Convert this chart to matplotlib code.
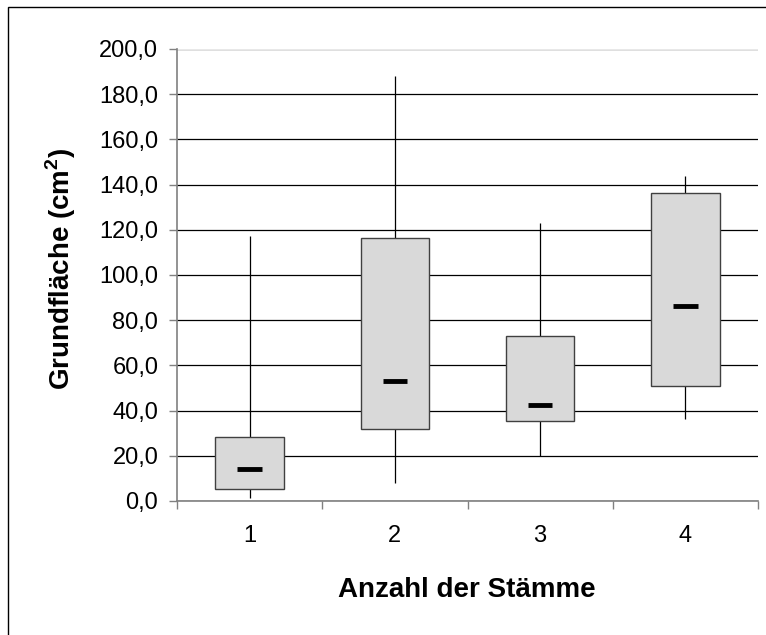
import matplotlib.pyplot as plt
from matplotlib.patches import Rectangle
from matplotlib.ticker import FixedLocator, FuncFormatter

plt.rcParams['font.family'] = ['Liberation Sans', 'DejaVu Sans']
plt.rcParams['mathtext.fontset'] = 'custom'
plt.rcParams['mathtext.rm'] = 'Liberation Sans'
plt.rcParams['mathtext.bf'] = 'Liberation Sans:bold'

# data (cm^2)
categories = ["1", "2", "3", "4"]
whisker_low = [1.2, 7.8, 19.9, 36.3]
q1 = [5.2, 31.8, 35.3, 50.8]
median = [14.1, 53.0, 42.5, 86.5]
q3 = [28.4, 116.4, 73.1, 136.1]
whisker_high = [117.1, 188.1, 123.2, 143.9]

x = list(range(1, len(categories) + 1))

W, H = 766, 635
fig = plt.figure(figsize=(W / 100, H / 100), dpi=100)
ax = fig.add_axes([177 / W, 134 / H, 581 / W, 452 / H])

# whiskers behind the boxes
ax.vlines(x, whisker_low, whisker_high, color="black", linewidth=0.9, zorder=2)
heights = [h - l for l, h in zip(q1, q3)]
ax.bar(x, heights, bottom=q1, width=0.47, color="#d9d9d9",
       edgecolor="#404040", linewidth=1.0, zorder=3)
ax.hlines(median, [i - 0.085 for i in x], [i + 0.085 for i in x],
          color="black", linewidth=3.5, zorder=4)

ax.set_xlim(0.5, len(categories) + 0.5)
ax.set_ylim(0, 200)
ax.set_yticks(range(0, 201, 20))
ax.yaxis.set_major_formatter(FuncFormatter(lambda v, p: f"{v:.1f}".replace(".", ",")))
ax.grid(axis="y", color="black", linewidth=0.9, zorder=1)
ax.set_axisbelow(True)

ax.set_xticks(x)
ax.set_xticklabels(categories)
ax.xaxis.set_minor_locator(FixedLocator([i + 0.5 for i in range(len(categories) + 1)]))
ax.tick_params(axis="x", which="major", length=0, pad=17, labelsize=17)
ax.tick_params(axis="x", which="minor", length=5.5, color="#808080", width=1)
ax.tick_params(axis="y", length=5.5, color="#808080", width=1, labelsize=17, pad=8)

for side in ["top", "right"]:
    ax.spines[side].set_visible(False)
for side in ["left", "bottom"]:
    ax.spines[side].set_color("#808080")
    ax.spines[side].set_linewidth(1.2)
ax.axhline(200, color="#e8e8e8", linewidth=0.8, zorder=1)

fig.text(467 / W, 1 - 597 / H, "Anzahl der Stämme", fontsize=20,
         fontweight="bold", ha="center", va="baseline")
fig.text(70 / W, 1 - 269 / H, "Grundfläche (cm$^\\mathbf{2}$)", fontsize=20,
         fontweight="bold", rotation=90, rotation_mode="anchor",
         ha="center", va="baseline")

# outer frame of the chart area (right and bottom edges lie outside the image)
fig.patches.append(Rectangle((8 / W, -10 / H), 800 / W, (H - 7 + 10) / H,
                             transform=fig.transFigure, fill=False,
                             edgecolor="black", linewidth=1.0))

fig.savefig("out.png", dpi=100)
